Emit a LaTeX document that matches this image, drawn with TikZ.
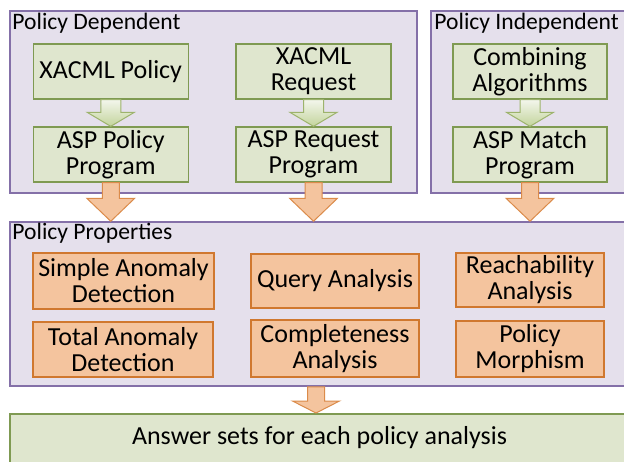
\documentclass[tikz,border=0pt]{standalone}
\usepackage{fontspec}
\setmainfont{Carlito}
\usetikzlibrary{calc}
\definecolor{contfill}{HTML}{E5E0EC}
\definecolor{contdraw}{HTML}{8470A8}
\definecolor{gfill}{HTML}{DFE6CE}
\definecolor{gdraw}{HTML}{7F9A52}
\definecolor{ofill}{HTML}{F4C49E}
\definecolor{odraw}{HTML}{D0782F}
\definecolor{garrtop}{HTML}{F3F6EC}
\definecolor{garrbot}{HTML}{C3D49C}
\definecolor{garrdraw}{HTML}{9DB36C}
\definecolor{oarrdraw}{HTML}{DB8B4A}
\newcommand{\BlkArrow}[6]{%
  \path[#1] ($(#2)+(-#4,0)$) -- ($(#3)+(-#4,-#6)$) -- ($(#3)+(-#5,-#6)$) -- (#3)
    -- ($(#3)+(#5,-#6)$) -- ($(#3)+(#4,-#6)$) -- ($(#2)+(#4,0)$) -- cycle;}
\tikzset{
  container/.style={draw=contdraw, fill=contfill, line width=1.5pt, inner sep=0pt},
  conttitle/.style={anchor=base west, inner sep=0pt, font=\fontsize{23.6}{24}\selectfont},
  gbox/.style={draw=gdraw, fill=gfill, line width=1.3pt, inner sep=0pt, align=center,
    font=\fontsize{26}{26}\selectfont},
  obox/.style={draw=odraw, fill=ofill, line width=1.3pt, inner sep=0pt, align=center,
    font=\fontsize{26}{26}\selectfont},
  garrow/.style={draw=garrdraw, line width=1pt, top color=garrtop, bottom color=garrbot},
  oarrow/.style={draw=oarrdraw, line width=1pt, fill=ofill},
}
\begin{document}
\begin{tikzpicture}[x=1pt,y=-1pt]
\clip (0,0) rectangle (624,461);
\fill[white] (0,0) rectangle (624,461);
% containers
\node[container, minimum width=407, minimum height=182] (dep) at (213.5,102) {};
\node[container, minimum width=198, minimum height=182] (indep) at (530,102) {};
\node[container, minimum width=619, minimum height=164] (props) at (319.5,304) {};
\node[draw=gdraw, fill=gfill, line width=1.5pt, inner sep=0pt, minimum width=619, minimum height=60, anchor=north] (ans) at (319.5,413) {};
\node[conttitle] (tdep) at ($(dep.north west)+(3,19)$) {Policy Dependent};
\node[conttitle] (tindep) at ($(indep.north west)+(4,19)$) {Policy Independent};
\node[conttitle] (tprops) at ($(props.north west)+(3,18.5)$) {Policy Properties};
\node[anchor=base, inner sep=0pt, font=\fontsize{26}{26}\selectfont] (tans) at (319.5,444) {Answer sets for each policy analysis};
% green boxes
\node[gbox, minimum width=155, minimum height=55] (xp) at (110.75,71.5) {XACML Policy};
\node[gbox, minimum width=155, minimum height=55] (xr) at (313.5,71.5) {XACML\\Request};
\node[gbox, minimum width=154, minimum height=55] (ca) at (530,71.5) {Combining\\Algorithms};
\node[gbox, minimum width=155, minimum height=55] (ap) at (110.75,154.5) {ASP Policy\\Program};
\node[gbox, minimum width=155, minimum height=55] (ar) at (313.5,154.5) {ASP Request\\Program};
\node[gbox, minimum width=154, minimum height=55] (am) at (530,154.5) {ASP Match\\Program};
% orange boxes
\node[obox, minimum width=181, minimum height=56] (sad) at (123.5,281) {Simple Anomaly\\Detection};
\node[obox, minimum width=180, minimum height=55] (tad) at (123,349.5) {Total Anomaly\\Detection};
\node[obox, minimum width=168, minimum height=54] (qa) at (335,281) {Query Analysis};
\node[obox, minimum width=168, minimum height=57] (cpa) at (335,348.5) {Completeness\\Analysis};
\node[obox, minimum width=148, minimum height=54] (ra) at (530,280) {Reachability\\Analysis};
\node[obox, minimum width=148, minimum height=56] (pm) at (530,349) {Policy\\Morphism};
% green arrows
\BlkArrow{garrow}{xp.south}{ap.north}{10}{23.5}{14}
\BlkArrow{garrow}{xr.south}{ar.north}{10}{23.5}{14}
\BlkArrow{garrow}{ca.south}{am.north}{10}{23.5}{14}
% orange arrows
\coordinate (t1) at (ap.south |- props.north);
\coordinate (t2) at (ar.south |- props.north);
\coordinate (t3) at (am.south |- props.north);
\BlkArrow{oarrow}{ap.south}{t1}{8.5}{24}{23}
\BlkArrow{oarrow}{ar.south}{t2}{8.5}{24}{23}
\BlkArrow{oarrow}{am.south}{t3}{8.5}{24}{23}
\coordinate (b0) at ($(props.south)+(-3.5,0)$);
\coordinate (b1) at ($(ans.north)+(-3.5,0)$);
\BlkArrow{oarrow}{b0}{b1}{8.5}{23.5}{12}
\end{tikzpicture}
\end{document}
